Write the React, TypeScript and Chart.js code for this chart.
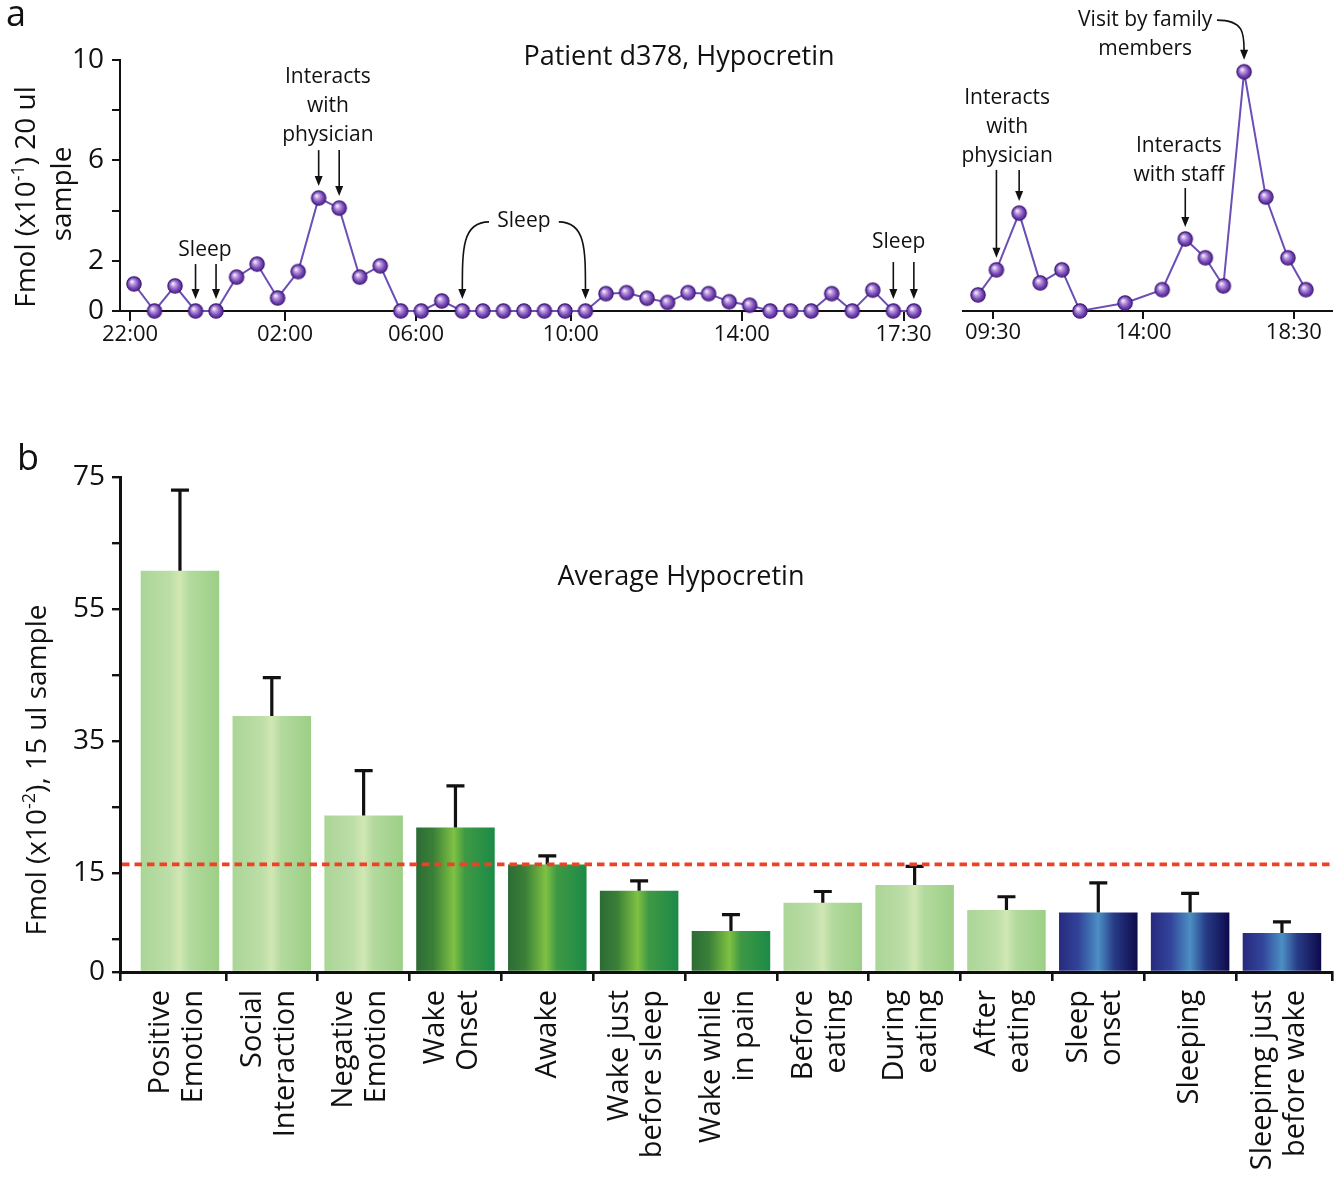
import React, { useEffect, useRef } from 'react';
import { Chart, registerables } from 'chart.js';

Chart.register(...registerables);

const FONT = '"Open Sans", "DejaVu Sans", sans-serif';

// ---------------- Panel a (left): samples, night -> afternoon ----------------
const leftValues = [
  1.08, 0, 1.0, 0, 0, 1.35, 1.87, 0.52, 1.57, 4.5, 4.1, 1.35, 1.8,
  0, 0, 0.4, 0, 0, 0, 0, 0, 0, 0,
  0.69, 0.73, 0.51, 0.34, 0.73, 0.69, 0.37, 0.23,
  0, 0, 0, 0.69, 0, 0.83, 0, 0,
];
const leftSampleIndex = leftValues.map((_, i) => i);
const leftTickPositions = [-0.19, 7.36, 13.74, 21.29, 29.62, 37.5];
const leftTickLabels = ['22:00', '02:00', '06:00', '10:00', '14:00', '17:30'];
const LEFT_X_MIN = -0.68;
const LEFT_X_MAX = 38.3;

// ---------------- Panel a (right): second day, hours ----------------
const rightTimes = [9.05, 9.6, 10.28, 10.91, 11.56, 12.1, 13.45, 14.56, 15.25, 15.85, 16.39, 17.01, 17.66, 18.32, 18.86];
const rightValues = [0.64, 1.64, 3.9, 1.12, 1.64, 0, 0.32, 0.85, 2.87, 2.12, 1.0, 9.53, 4.54, 2.12, 0.85];
const rightTickPositions = [9.5, 14, 18.5];
const rightTickLabels = ['09:30', '14:00', '18:30'];
const RIGHT_X_MIN = 8.6;
const RIGHT_X_MAX = 19.64;

const aYTicks = [0, 2, 4, 6, 8, 10];
const aYLabeled = [0, 2, 6, 10];

type Arrow = { i: number; fromY: number; fromX?: number };
type Note = { lines: string[]; x: number; y: number; arrows: Arrow[] };

const leftNotes: Note[] = [
  { lines: ['Sleep'], x: 3.46, y: 2.43, arrows: [{ i: 3, fromY: 1.87 }, { i: 4, fromY: 1.87 }] },
  { lines: ['Interacts', 'with', 'physician'], x: 9.45, y: 9.32, arrows: [{ i: 9, fromY: 6.41 }, { i: 10, fromY: 6.41 }] },
  { lines: ['Sleep'], x: 19.0, y: 3.59, arrows: [{ i: 16, fromY: 3.55, fromX: 17.3 }, { i: 22, fromY: 3.55, fromX: 20.7 }] },
  { lines: ['Sleep'], x: 37.26, y: 2.75, arrows: [{ i: 37, fromY: 1.95 }, { i: 38, fromY: 1.95 }] },
];

const rightNotes: Note[] = [
  { lines: ['Visit by family', 'members'], x: 14.05, y: 11.59, arrows: [{ i: 11, fromY: 11.59, fromX: 16.2 }] },
  { lines: ['Interacts', 'with', 'physician'], x: 9.92, y: 8.49, arrows: [{ i: 1, fromY: 5.62 }, { i: 2, fromY: 5.62 }] },
  { lines: ['Interacts', 'with staff'], x: 15.06, y: 6.57, arrows: [{ i: 8, fromY: 4.9 }] },
];

// ---------------- Panel b: average per behaviour ----------------
const categories: string[][] = [
  ['Positive', 'Emotion'],
  ['Social', 'Interaction'],
  ['Negative', 'Emotion'],
  ['Wake', 'Onset'],
  ['Awake'],
  ['Wake just', 'before sleep'],
  ['Wake while', 'in pain'],
  ['Before', 'eating'],
  ['During', 'eating'],
  ['After', 'eating'],
  ['Sleep', 'onset'],
  ['Sleeping'],
  ['Sleepimg just', 'before wake'],
];
const categoryGroups = ['activity', 'activity', 'activity', 'wake', 'wake', 'wake', 'wake', 'activity', 'activity', 'activity', 'sleep', 'sleep', 'sleep'];
const meanValues = [60.8, 38.8, 23.7, 21.9, 16.3, 12.3, 6.2, 10.5, 13.2, 9.4, 9.0, 9.0, 5.9];
const errorValues = [12.2, 5.8, 6.8, 6.3, 1.3, 1.5, 2.5, 1.7, 2.8, 2.0, 4.5, 2.9, 1.7];
const thresholdValue = 16.3;
const bYTicks = [0, 5, 15, 25, 35, 45, 55, 65, 75];
const bYLabeled = [0, 15, 35, 55, 75];
const B_X_MIN = -0.653;
const B_X_MAX = 12.545;

// ---------------- styles ----------------
const groupGradients: Record<string, [number, string][]> = {
  activity: [[0, '#abd597'], [0.36, '#bcdda7'], [0.5, '#d1e7b4'], [0.62, '#b3da9e'], [1, '#9ccf86']],
  wake: [[0, '#2d6b35'], [0.22, '#3a8038'], [0.48, '#7fc143'], [0.62, '#3f9944'], [1, '#1c8a47']],
  sleep: [[0, '#272a7e'], [0.25, '#32449a'], [0.5, '#4c8fc4'], [0.7, '#273b86'], [1, '#0e0a4c']],
};
const BAR_FRACTION = 0.855;
const NOTE_LINE = 29;
const TIP_GAP = 12;
const LABEL_LINE = 33;
const LABEL_SHIFT = -3;

function makeSphere(): HTMLCanvasElement {
  const r = 7.8;
  const c = document.createElement('canvas');
  c.width = 18;
  c.height = 18;
  const g = c.getContext('2d')!;
  const cx = 9, cy = 9;
  const grad = g.createRadialGradient(cx - 2.2, cy - 2.4, 0.4, cx, cy, r);
  grad.addColorStop(0, '#f4eefb');
  grad.addColorStop(0.3, '#b796de');
  grad.addColorStop(0.7, '#7040b0');
  grad.addColorStop(1, '#4a2287');
  g.beginPath();
  g.arc(cx, cy, r - 0.6, 0, Math.PI * 2);
  g.fillStyle = grad;
  g.fill();
  g.lineWidth = 1.1;
  g.strokeStyle = '#3c1872';
  g.stroke();
  return c;
}

type Seg = { t: string; sup?: boolean };
function drawRich(ctx: CanvasRenderingContext2D, segs: Seg[], cx: number, cy: number, size: number, rotate: boolean) {
  ctx.save();
  ctx.translate(cx, cy);
  if (rotate) ctx.rotate(-Math.PI / 2);
  const supSize = Math.round(size * 0.64);
  const widths = segs.map((s) => {
    ctx.font = `${s.sup ? supSize : size}px ${FONT}`;
    return ctx.measureText(s.t).width;
  });
  let xx = -widths.reduce((a, b) => a + b, 0) / 2;
  ctx.textAlign = 'left';
  ctx.textBaseline = 'alphabetic';
  ctx.fillStyle = '#111';
  const base = size * 0.36;
  segs.forEach((s, k) => {
    ctx.font = `${s.sup ? supSize : size}px ${FONT}`;
    ctx.fillText(s.t, xx, s.sup ? base - size * 0.4 : base);
    xx += widths[k];
  });
  ctx.restore();
}

function notesPlugin(id: string, notes: Note[], xs: number[], ys: number[]) {
  return {
    id,
    afterDatasetsDraw(chart: any) {
      const ctx: CanvasRenderingContext2D = chart.ctx;
      const xS = chart.scales.x;
      const yS = chart.scales.y;
      ctx.save();
      ctx.fillStyle = '#111';
      ctx.strokeStyle = '#111';
      ctx.lineWidth = 1.6;
      ctx.font = `21px ${FONT}`;
      ctx.textAlign = 'center';
      ctx.textBaseline = 'middle';
      notes.forEach((n) => {
        const px = xS.getPixelForValue(n.x);
        const py = yS.getPixelForValue(n.y);
        n.lines.forEach((line, k) => ctx.fillText(line, px, py + k * NOTE_LINE));
        n.arrows.forEach((a) => {
          const tx = xS.getPixelForValue(xs[a.i]);
          const ty = yS.getPixelForValue(ys[a.i]) - TIP_GAP;
          const sy = yS.getPixelForValue(a.fromY);
          const head = 10;
          ctx.beginPath();
          if (a.fromX === undefined) {
            ctx.moveTo(tx, sy);
            ctx.lineTo(tx, ty - head + 1);
          } else {
            const sx = xS.getPixelForValue(a.fromX);
            ctx.moveTo(sx, sy);
            ctx.bezierCurveTo(tx, sy, tx, sy + (ty - sy) * 0.35, tx, ty - head + 1);
          }
          ctx.stroke();
          ctx.beginPath();
          ctx.moveTo(tx, ty);
          ctx.lineTo(tx - 4, ty - head);
          ctx.lineTo(tx + 4, ty - head);
          ctx.closePath();
          ctx.fill();
        });
      });
      ctx.restore();
    },
  };
}

function lineDataset(xs: number[], ys: number[], sphere: HTMLCanvasElement) {
  return {
    data: xs.map((x, i) => ({ x, y: ys[i] })),
    borderColor: '#6b4fb6',
    borderWidth: 2,
    pointStyle: sphere as any,
    pointRadius: 8,
    tension: 0,
    clip: false as any,
  };
}

function aYScale(display: boolean) {
  return {
    display,
    min: 0,
    max: 10,
    afterBuildTicks: (s: any) => {
      s.ticks = aYTicks.map((v) => ({ value: v }));
    },
    afterFit: (s: any) => {
      s.width = display ? 120 : 0;
    },
    ticks: {
      autoSkip: false,
      padding: 8,
      color: '#111',
      font: { family: FONT, size: 28 },
      callback: (v: any) => (aYLabeled.includes(Number(v)) ? String(v) : ''),
    },
    grid: { drawOnChartArea: false, drawTicks: true, tickLength: 8, color: '#111', lineWidth: 2 },
    border: { display: true, color: '#111', width: 2 },
  };
}

function aXScale(min: number, max: number, pos: number[], labels: string[], tickLen: number) {
  return {
    type: 'linear' as const,
    min,
    max,
    afterBuildTicks: (s: any) => {
      s.ticks = pos.map((v) => ({ value: v }));
    },
    afterFit: (s: any) => {
      s.height = 49;
    },
    ticks: {
      autoSkip: false,
      maxRotation: 0,
      padding: 1,
      color: '#111',
      font: { family: FONT, size: 22 },
      callback: (_v: any, i: number) => labels[i] ?? '',
    },
    grid: { drawOnChartArea: false, drawTicks: true, tickLength: tickLen, color: '#111', lineWidth: 2 },
    border: { display: true, color: '#111', width: 2 },
  };
}

export default function App() {
  const leftRef = useRef<HTMLCanvasElement>(null);
  const rightRef = useRef<HTMLCanvasElement>(null);
  const barRef = useRef<HTMLCanvasElement>(null);

  useEffect(() => {
    const sphere = makeSphere();
    const charts: Chart[] = [];

    const leftExtras = {
      id: 'leftExtras',
      afterDraw(chart: any) {
        const ctx: CanvasRenderingContext2D = chart.ctx;
        ctx.save();
        ctx.fillStyle = '#111';
        ctx.textAlign = 'center';
        ctx.textBaseline = 'middle';
        ctx.font = `36px ${FONT}`;
        ctx.fillText('a', 16, 16);
        ctx.font = `27px ${FONT}`;
        ctx.fillText('Patient d378, Hypocretin', 679, 57);
        ctx.restore();
        drawRich(ctx, [{ t: 'Fmol (x10' }, { t: '-1', sup: true }, { t: ') 20 ul' }], 25, 197, 28, true);
        drawRich(ctx, [{ t: 'sample' }], 61, 194, 28, true);
      },
    };

    if (leftRef.current) {
      charts.push(
        new Chart(leftRef.current, {
          type: 'line',
          data: { datasets: [lineDataset(leftSampleIndex, leftValues, sphere) as any] },
          options: {
            responsive: false,
            animation: false,
            events: [],
            layout: { padding: { top: 60, right: 15, left: 0, bottom: 0 } },
            plugins: { legend: { display: false }, tooltip: { enabled: false }, title: { display: false } },
            scales: {
              x: aXScale(LEFT_X_MIN, LEFT_X_MAX, leftTickPositions, leftTickLabels, 10) as any,
              y: aYScale(true) as any,
            },
          },
          plugins: [notesPlugin('leftNotes', leftNotes, leftSampleIndex, leftValues), leftExtras],
        })
      );
    }

    if (rightRef.current) {
      charts.push(
        new Chart(rightRef.current, {
          type: 'line',
          data: { datasets: [lineDataset(rightTimes, rightValues, sphere) as any] },
          options: {
            responsive: false,
            animation: false,
            events: [],
            layout: { padding: { top: 60, right: 10, left: 28, bottom: 0 } },
            plugins: { legend: { display: false }, tooltip: { enabled: false } },
            scales: {
              x: aXScale(RIGHT_X_MIN, RIGHT_X_MAX, rightTickPositions, rightTickLabels, 8) as any,
              y: aYScale(false) as any,
            },
          },
          plugins: [notesPlugin('rightNotes', rightNotes, rightTimes, rightValues)],
        })
      );
    }

    const barExtras = {
      id: 'barExtras',
      afterDatasetsDraw(chart: any) {
        const ctx: CanvasRenderingContext2D = chart.ctx;
        const xS = chart.scales.x;
        const yS = chart.scales.y;
        const meta = chart.getDatasetMeta(0);
        ctx.save();
        // error bars
        ctx.strokeStyle = '#111';
        ctx.lineWidth = 3.2;
        meta.data.forEach((el: any, i: number) => {
          const top = yS.getPixelForValue(meanValues[i] + errorValues[i]);
          ctx.beginPath();
          ctx.moveTo(el.x, el.y);
          ctx.lineTo(el.x, top);
          ctx.moveTo(el.x - 9, top);
          ctx.lineTo(el.x + 9, top);
          ctx.stroke();
        });
        // threshold line
        const ty = yS.getPixelForValue(thresholdValue);
        ctx.strokeStyle = '#ef4123';
        ctx.lineWidth = 3.6;
        ctx.setLineDash([7.5, 5]);
        ctx.beginPath();
        ctx.moveTo(chart.chartArea.left + 2, ty);
        ctx.lineTo(chart.chartArea.right, ty);
        ctx.stroke();
        ctx.setLineDash([]);
        // category labels (rotated)
        ctx.fillStyle = '#111';
        ctx.font = `29px ${FONT}`;
        ctx.textAlign = 'right';
        ctx.textBaseline = 'middle';
        const yEnd = chart.chartArea.bottom + 18;
        categories.forEach((lines, i) => {
          const cx = xS.getPixelForValue(i);
          lines.forEach((line, k) => {
            const off = (k - (lines.length - 1) / 2) * LABEL_LINE + (lines.length > 1 ? LABEL_SHIFT : 0);
            ctx.save();
            ctx.translate(cx + off, yEnd);
            ctx.rotate(-Math.PI / 2);
            ctx.fillText(line, 0, 0);
            ctx.restore();
          });
        });
        ctx.restore();
      },
      afterDraw(chart: any) {
        const ctx: CanvasRenderingContext2D = chart.ctx;
        ctx.save();
        ctx.fillStyle = '#111';
        ctx.textAlign = 'center';
        ctx.textBaseline = 'middle';
        ctx.font = `36px ${FONT}`;
        ctx.fillText('b', 28, 100);
        ctx.font = `27px ${FONT}`;
        ctx.fillText('Average Hypocretin', 681, 217);
        ctx.restore();
        drawRich(ctx, [{ t: 'Fmol (x10' }, { t: '-2', sup: true }, { t: '), 15 ul sample' }], 36, 410, 28, true);
      },
    };

    if (barRef.current) {
      charts.push(
        new Chart(barRef.current, {
          type: 'bar',
          data: {
            labels: categories.map((l) => l.join(' ')),
            datasets: [
              {
                data: meanValues.map((v, i) => ({ x: i, y: v })) as any,
                borderWidth: 0,
                barPercentage: BAR_FRACTION,
                categoryPercentage: 1,
                backgroundColor: (c: any) => {
                  const xS = c.chart.scales?.x;
                  if (!xS || c.dataIndex === undefined) return '#9ccf86';
                  const cx = xS.getPixelForValue(c.dataIndex);
                  const half = ((xS.getPixelForValue(1) - xS.getPixelForValue(0)) * BAR_FRACTION) / 2;
                  if (!isFinite(cx) || !isFinite(half)) return '#9ccf86';
                  const g = c.chart.ctx.createLinearGradient(cx - half, 0, cx + half, 0);
                  groupGradients[categoryGroups[c.dataIndex]].forEach(([o, col]) => g.addColorStop(o, col));
                  return g;
                },
              },
            ],
          },
          options: {
            responsive: false,
            animation: false,
            events: [],
            layout: { padding: { top: 117, right: 10, left: 0, bottom: 0 } },
            plugins: { legend: { display: false }, tooltip: { enabled: false } },
            scales: {
              x: {
                type: 'linear',
                min: B_X_MIN,
                max: B_X_MAX,
                offset: false,
                afterBuildTicks: (s: any) => {
                  const t = [B_X_MIN];
                  for (let i = 0; i < categories.length - 1; i++) t.push(i + 0.5);
                  t.push(B_X_MAX);
                  s.ticks = t.map((v) => ({ value: v }));
                },
                afterFit: (s: any) => {
                  s.height = 206;
                },
                ticks: { display: false, autoSkip: false },
                grid: { offset: false, drawOnChartArea: false, drawTicks: true, tickLength: 9, color: '#111', lineWidth: 2.6 },
                border: { display: true, color: '#111', width: 3 },
              } as any,
              y: {
                min: 0,
                max: 75,
                afterBuildTicks: (s: any) => {
                  s.ticks = bYTicks.map((v) => ({ value: v }));
                },
                afterFit: (s: any) => {
                  s.width = 120;
                },
                ticks: {
                  autoSkip: false,
                  padding: 7,
                  color: '#111',
                  font: { family: FONT, size: 28 },
                  callback: (v: any) => (bYLabeled.includes(Number(v)) ? String(v) : ''),
                },
                grid: { drawOnChartArea: false, drawTicks: true, tickLength: 8, color: '#111', lineWidth: 2.4 },
                border: { display: true, color: '#111', width: 3 },
              } as any,
            },
          },
          plugins: [barExtras],
        })
      );
    }

    return () => {
      charts.forEach((c) => c.destroy());
    };
  }, []);

  return (
    <div style={{ position: 'absolute', left: 0, top: 0, width: 1342, height: 1178, background: '#fff' }}>
      <canvas ref={leftRef} width={935} height={360} style={{ position: 'absolute', left: 0, top: 0 }} />
      <canvas ref={rightRef} width={407} height={360} style={{ position: 'absolute', left: 935, top: 0 }} />
      <canvas ref={barRef} width={1342} height={818} style={{ position: 'absolute', left: 0, top: 360 }} />
    </div>
  );
}
